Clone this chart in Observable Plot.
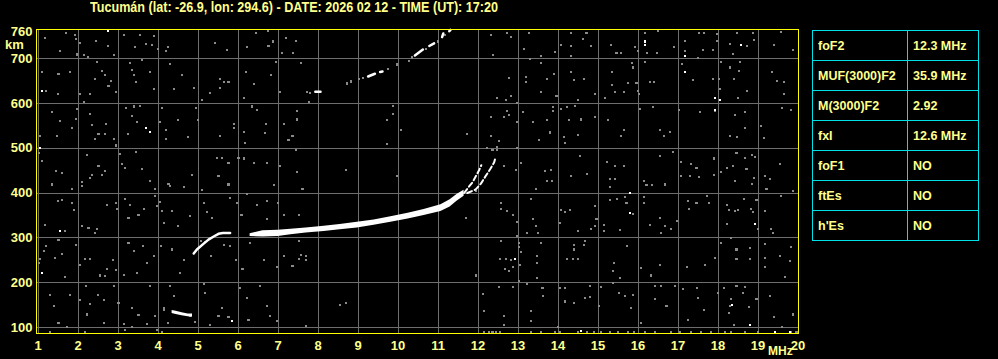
<!DOCTYPE html>
<html><head><meta charset="utf-8">
<script src="https://cdn.jsdelivr.net/npm/d3@7"></script>
<script src="https://cdn.jsdelivr.net/npm/@observablehq/plot@0.6"></script>
<style>
html,body{margin:0;padding:0;background:#000;width:998px;height:359px;overflow:hidden}
#wrap{position:relative;width:998px;height:359px;background:#000}
#chart{position:absolute;left:0;top:0}
.lbl{position:absolute;color:#ffff8c;font-family:"Liberation Sans",Arial,sans-serif;font-weight:bold;white-space:nowrap;line-height:1}
#title{left:90px;top:0px;font-size:14px;transform-origin:0 0}
#km{left:5px;top:38px;font-size:13px}
#mhz{left:768px;top:345px;font-size:12px}
#tbl{position:absolute;left:812px;top:30px;border-collapse:collapse;border:1px solid #00e0e8;table-layout:fixed;
  color:#ffff8c;font-family:"Liberation Sans",Arial,sans-serif;font-weight:bold;font-size:12.5px}
#tbl td{border:1px solid #00e0e8;height:30px;padding:0 0 0 5px;box-sizing:border-box;vertical-align:middle;white-space:nowrap;overflow:hidden}
#tbl td.p{width:95px}
#tbl td.v{width:71px}
</style></head>
<body><div id="wrap"><div id="chart"></div><div id="title" class="lbl"></div><div id="km" class="lbl">km</div><div id="mhz" class="lbl">MHz</div><table id="tbl"></table></div>
<script>
// ---------- texts ----------
const titleText = "Tucumán (lat: -26.9, lon: 294.6) - DATE: 2026 02 12 - TIME (UT): 17:20";
const xTicks = [1,2,3,4,5,6,7,8,9,10,11,12,13,14,15,16,17,18,19,20];
const yTicks = [100,200,300,400,500,600,700];
const yTopTick = 760;
const paramNames = ["foF2","MUF(3000)F2","M(3000)F2","fxI","foF1","ftEs","h'Es"];
const paramValues = ["12.3 MHz","35.9 MHz","2.92","12.6 MHz","NO","NO","NO"];

// ---------- traces (frequency MHz, virtual height km) ----------
// F2 ordinary trace, lower thin part
const oLowF = [4.89, 4.97, 5.14, 5.26, 5.39, 5.51, 5.62, 5.80];
const oLowH = [265, 274, 287, 296, 303, 309, 311, 311];
// F2 ordinary trace, thick band
const bandF  = [6.30, 6.62, 7.00, 7.32, 7.70, 8.15, 8.55, 8.98, 9.40, 9.82, 10.25, 10.65, 11.07, 11.30, 11.48, 11.65];
const bandLo = [303, 302, 303, 307, 311, 314, 318, 322, 328, 335, 342, 350, 359, 369, 382, 393];
const bandHi = [309, 316, 317, 319, 322, 326, 330, 335, 340, 347, 355, 363, 374, 385, 397, 406];
// F2 ordinary trace near critical frequency
const oTopF = [11.65, 11.76, 11.86, 11.96, 12.03, 12.08];
const oTopH = [400, 413, 424, 440, 452, 462];
// F2 extraordinary trace
const xTrF = [11.73, 11.94, 12.07, 12.19, 12.30, 12.40, 12.44];
const xTrH = [400, 408, 421, 438, 453, 468, 481];
// E-region echo
const eF  = [4.35, 4.45, 4.60, 4.75, 4.86];
const eLo = [131, 129, 126, 124, 123];
const eHi = [138, 136, 133, 130, 130];
// second-hop F echo: bright pieces [piece, freq, height]
const echo2F = [[0,7.93,626],[0,8.06,626],[1,9.25,660],[1,9.42,666],[2,9.55,670],[2,9.61,671],
  [3,10.42,707],[3,10.62,720],[4,10.78,728],[4,10.90,734],[5,11.10,748],[5,11.13,756],[6,11.28,761],[6,11.31,764]];
const echo2Dim = [[7.73,626],[7.80,623],[8.73,644],[8.83,649],[9.03,654],[9.12,657],[9.75,677],[9.98,687],[10.28,695],[10.35,702],[10.70,722],[11.00,738],[11.18,752],[11.94,405],[12.47,502]];

// ---------- noise (frequency MHz, height km) ----------
const noiseBright = [[2.75,762],[1.10,628],[3.70,544],[3.79,536],[1.04,501],[1.54,315],[1.10,222],[5.85,114],
  [12.92,252],[16.18,738],[16.18,731],[18.58,730],[17.18,705],[17.18,670],[17.93,611],[18.04,608],[17.93,585],
  [15.79,401],[15.79,356],[18.93,330],[18.35,151],[18.79,106],[19.42,91],[14.58,93],[19.79,91]];
const noiseGrey = [
 [1.70,757],[1.93,753],[1.95,743],[2.04,734],[2.45,739],[2.74,728],[1.18,745],[1.55,717],[1.97,709],[2.14,707],[2.24,703],[2.89,707],
 [3.15,753],[3.54,753],[3.89,751],[3.69,732],[3.85,730],[3.99,721],[3.43,725],[4.24,726],[4.20,716],[5.43,734],[6.45,757],[6.74,762],
 [6.87,738],[6.22,725],[6.76,727],[7.10,712],[7.20,746],[5.72,719],
 [1.10,670],[1.51,666],[1.80,670],[1.49,620],[2.04,620],[2.14,603],[2.30,620],[2.47,693],[2.60,672],[2.43,655],[2.68,664],[2.82,649],
 [2.76,639],[2.95,626],[3.35,675],[3.29,690],[3.60,696],[3.39,663],[3.45,648],[3.89,631],[3.80,670],[4.30,687],[4.39,633],[4.60,664],
 [4.89,635],[5.10,607],[5.29,623],[5.55,654],[5.64,648],[5.76,648],[5.54,634],[6.14,613],[6.20,670],[6.39,643],[6.82,664],[6.95,693],[7.04,626],[1.20,628],
 [1.35,581],[1.54,561],[1.85,544],[1.97,587],[1.95,566],[2.29,576],[2.35,551],[2.51,531],[2.43,520],[2.70,553],[2.89,520],[2.95,506],
 [2.68,531],[3.20,589],[3.40,593],[3.55,594],[3.35,572],[3.47,558],[3.24,531],[4.05,558],[4.10,589],[4.20,541],[4.20,520],[4.49,563],
 [4.74,526],[4.95,589],[5.00,562],[5.54,527],[5.89,553],[5.90,544],[6.14,536],[6.18,511],[6.35,593],[6.47,585],[6.70,553],[6.68,533],
 [7.14,553],[7.26,518],[1.04,527],[1.47,527],[1.02,490],
 [1.45,449],[1.35,419],[1.60,444],[1.85,408],[2.10,424],[2.10,415],[2.22,484],[2.29,433],[2.35,440],[2.51,460],[2.60,440],[2.68,449],
 [3.04,488],[3.10,464],[3.18,456],[3.45,491],[3.60,454],[3.80,427],[3.93,408],[4.26,421],[4.30,415],[4.64,414],[4.84,441],[5.10,407],
 [5.47,479],[5.51,438],[5.60,479],[5.76,466],[5.76,419],[6.01,479],[6.14,477],[6.39,466],[6.72,468],[6.90,418],[7.05,460],[1.10,471],
 [1.18,328],[1.49,382],[1.60,384],[1.85,378],[1.89,363],[2.10,327],[2.26,322],[2.47,320],[2.72,373],[2.95,377],[2.97,365],[3.18,386],
 [3.30,373],[3.26,345],[3.51,352],[3.64,365],[3.93,393],[3.97,372],[4.05,380],[4.10,360],[4.14,333],[4.35,360],[4.49,326],[4.80,348],
 [5.14,377],[5.22,357],[5.35,345],[5.79,389],[5.97,377],[6.07,352],[6.09,350],[6.22,397],[6.47,374],[6.72,382],[6.72,341],[6.99,378],[7.14,350],
 [2.43,311],[1.68,315],
 [1.05,252],[1.14,270],[1.20,281],[1.43,255],[1.51,295],[1.60,265],[1.95,283],[2.04,240],[2.18,253],[2.30,252],[2.54,216],[2.68,214],
 [2.72,231],[2.87,250],[2.95,228],[3.14,218],[3.26,289],[3.39,270],[3.47,222],[3.62,281],[3.72,244],[3.89,259],[4.07,281],[4.35,274],
 [4.55,222],[4.64,250],[5.07,293],[5.18,290],[5.32,259],[5.65,283],[5.80,281],[5.95,250],[6.11,231],[6.30,289],[6.64,250],[6.97,235],
 [7.14,259],[1.68,213],[1.02,243],
 [1.30,172],[1.39,147],[1.80,172],[2.05,162],[2.20,192],[2.30,152],[2.49,172],[2.64,162],[2.89,193],[3.01,155],[3.14,108],[3.35,144],
 [3.51,127],[3.72,108],[3.80,192],[3.93,126],[4.14,144],[4.14,138],[4.30,192],[4.24,110],[4.39,171],[4.80,126],[4.93,112],[5.14,196],[5.18,177],
 [5.30,106],[5.51,126],[5.60,144],[5.76,123],[6.05,188],[6.22,166],[6.26,117],[6.55,192],[6.72,147],[6.80,125],[6.97,114],[1.51,110],
 [1.72,102],[2.22,129],[1.29,91],[2.64,110],[2.18,91],[3.18,95],[3.97,95],[4.10,91],[3.35,102],
 [7.44,740],[7.38,713],[7.58,689],[12.32,753],[12.73,757],[12.83,749],[13.28,758],[12.38,708],[13.15,721],[13.58,705],[13.58,691],[13.30,699],
 [7.48,583],[7.48,564],[7.78,603],[9.88,594],[9.73,563],[9.88,576],[13.19,658],[13.19,648],[12.78,656],[12.48,611],[12.69,608],[12.83,617],
 [12.98,600],[13.58,626],
 [12.72,583],[12.78,573],[12.65,570],[12.32,570],[13.13,581],[12.98,558],[13.38,558],[10.08,541],[9.73,509],[11.73,531],[12.33,527],
 [12.53,516],[13.53,518],[7.36,527],
 [7.44,496],[7.48,447],[8.69,451],[9.98,438],[12.23,501],[12.36,497],[12.48,497],[12.98,501],[12.65,460],[12.94,451],[13.08,468],
 [13.67,449],[13.44,408],[7.61,408],
 [7.53,350],[12.58,377],[12.58,365],[12.73,360],[12.88,350],[11.69,345],[12.97,335],[12.98,305],[13.23,311],[13.33,386],[13.38,341],
 [13.44,327],[13.50,310],
 [7.53,292],[7.53,252],[7.58,261],[7.69,259],[7.69,250],[7.36,238],[12.58,292],[12.55,253],[12.69,252],[12.83,250],[13.03,289],[13.03,280],
 [13.05,240],[12.88,235],[12.78,225],[12.67,231],[13.08,268],[13.48,260],[13.48,244],[13.47,211],[13.58,289],[11.94,216],[13.03,203],[13.23,198],
 [8.54,151],[8.69,155],[12.13,175],[12.15,136],[12.53,190],[12.88,190],[12.65,125],[12.65,106],[13.33,136],[13.33,114],[13.61,188],
 [13.63,170],[7.69,103],[12.15,91],[12.28,91],[12.36,91],[12.44,91],[12.55,91],[13.32,91],[13.57,91],
 [14.33,758],[14.71,758],[14.63,743],[14.08,730],[14.33,727],[14.33,705],[14.83,727],[15.32,730],[15.46,712],[15.58,712],[15.92,725],
 [16.00,717],[16.17,757],[16.23,712],[16.50,762],[16.48,712],[16.90,725],[17.18,740],[17.18,717],[17.52,757],[17.65,757],[17.63,719],
 [17.88,719],[17.98,754],[17.98,740],[18.29,732],[18.48,757],[18.73,728],[18.88,758],[18.90,742],[19.88,719],[19.58,760],[19.40,730],
 [18.38,710],[17.50,702],[13.92,715],
 [13.90,665],[13.73,655],[14.33,669],[14.40,652],[14.65,655],[14.92,620],[14.50,608],[15.18,613],[15.35,670],[15.43,626],[15.65,626],
 [15.35,640],[15.85,691],[15.88,680],[15.75,645],[15.96,645],[16.00,628],[16.02,620],[16.18,693],[16.29,648],[16.40,648],[17.10,687],
 [17.38,652],[17.88,655],[18.02,655],[18.04,633],[18.08,693],[18.29,680],[18.40,654],[18.54,693],[18.52,672],[18.73,628],[19.35,670],
 [19.48,650],[19.65,648],[19.65,620],[18.50,613],[13.96,617],
 [13.73,563],[13.88,591],[13.88,583],[14.08,588],[14.23,591],[14.27,563],[14.43,594],[14.57,564],[14.50,529],[14.92,570],[14.14,524],
 [14.18,511],[13.79,535],[15.25,563],[15.58,527],[15.65,541],[16.04,588],[16.38,591],[16.54,541],[16.65,527],[16.79,536],[17.03,585],
 [17.54,581],[17.92,583],[18.43,575],[18.29,527],[18.48,526],[18.68,581],[18.68,544],[19.08,550],[19.15,523],[19.60,589],[19.82,585],
 [13.83,451],[13.73,427],[13.85,427],[14.33,438],[14.54,483],[14.73,442],[15.23,469],[15.43,460],[15.29,432],[15.43,432],[15.29,414],
 [15.65,460],[16.15,427],[16.21,417],[16.35,417],[16.54,483],[16.68,419],[16.88,491],[17.08,469],[17.33,464],[17.46,456],[17.08,438],
 [17.29,438],[17.52,436],[17.90,477],[17.90,441],[18.08,447],[18.23,456],[18.38,460],[18.46,490],[18.67,479],[18.71,454],[18.43,427],
 [18.85,484],[18.93,481],[18.90,434],[18.85,421],[19.17,438],[19.29,432],[19.21,409],[19.54,464],[19.88,404],
 [14.04,333],[14.08,363],[14.17,357],[14.29,363],[14.50,315],[14.83,320],[14.92,326],[14.96,341],[14.92,372],[15.15,315],[15.15,328],
 [15.29,384],[15.48,386],[15.67,392],[15.71,377],[15.54,317],[15.88,354],[16.15,392],[16.15,377],[16.29,328],[16.54,345],[16.58,311],
 [16.68,326],[16.82,319],[16.98,337],[17.25,382],[17.46,377],[17.73,393],[17.77,377],[17.27,365],[18.23,374],[18.27,363],[18.23,330],
 [18.43,360],[18.50,363],[18.65,386],[18.83,365],[18.88,357],[18.96,384],[19.00,319],[19.17,360],[19.33,319],[19.38,310],[19.58,393],[18.33,300],
 [14.40,283],[14.40,274],[14.23,252],[14.38,252],[14.50,252],[14.67,293],[14.65,283],[15.40,244],[15.38,225],[15.54,211],[15.73,281],
 [16.08,233],[16.33,216],[16.54,240],[17.23,235],[17.68,240],[17.93,255],[18.08,289],[18.46,274],[18.46,252],[18.79,278],[18.79,253],
 [19.17,287],[19.17,255],[19.17,235],[19.54,259],[19.68,213],[19.83,280],[19.79,248],
 [14.04,188],[14.18,188],[14.18,158],[14.40,155],[14.67,166],[14.79,168],[14.79,192],[15.02,147],[15.08,190],[15.38,199],[15.52,178],
 [15.67,170],[15.88,173],[15.83,144],[16.08,110],[16.43,192],[16.57,192],[16.42,164],[16.71,147],[16.93,192],[17.13,185],[17.48,188],
 [17.50,166],[17.25,117],[17.65,140],[18.00,177],[18.15,188],[18.33,164],[18.29,147],[18.27,132],[18.40,106],[18.46,192],[18.67,190],
 [18.63,178],[18.77,146],[18.96,164],[19.29,170],[19.40,123],[19.60,102],[19.88,129],[14.00,102],
 [13.92,91],[14.04,91],[14.50,91],[14.73,91],[14.90,91],[15.08,91],[15.29,91],[15.50,91],[15.75,91],[15.90,91],[16.17,91],[16.42,91],
 [16.83,91],[17.04,91],[17.33,91],[17.58,91],[17.83,91],[18.17,91],[18.33,91],[18.67,91],[19.00,91],[19.83,91],[19.96,91]
];

// ---------- build ----------
const FONT = '"Liberation Sans",Arial,sans-serif';
const band = bandF.map((f,i)=>({f, lo:bandLo[i], hi:bandHi[i]}));
const eBand = eF.map((f,i)=>({f, lo:eLo[i], hi:eHi[i]}));
const oLow = oLowF.map((f,i)=>({f, h:oLowH[i]}));
const oTop = oTopF.map((f,i)=>({f, h:oTopH[i]}));
const xTr = xTrF.map((f,i)=>({f, h:xTrH[i]}));

const chart = Plot.plot({
  width: 998, height: 359,
  marginLeft: 36, marginRight: 200, marginTop: 29, marginBottom: 26,
  style: {background:"#000", color:"#ffff8c", fontFamily: FONT, fontSize:"13px", fontWeight:"bold"},
  x: {domain:[0.96, 20.01]},
  y: {domain:[86.6, 764.8]},
  marks: [
    Plot.gridX(xTicks, {stroke:"#6e6e6e", strokeOpacity:1, shapeRendering:"crispEdges"}),
    Plot.gridY(yTicks, {stroke:"#6e6e6e", strokeOpacity:1, shapeRendering:"crispEdges"}),
    Plot.dot(noiseGrey, {x:d=>d[0], y:d=>d[1], symbol:"square", r:1.15, fill:"#8a8a8a", shapeRendering:"crispEdges"}),
    Plot.dot(echo2Dim, {x:d=>d[0], y:d=>d[1], symbol:"square", r:1.3, fill:"#8a8a8a", shapeRendering:"crispEdges"}),
    Plot.dot(noiseBright, {x:d=>d[0], y:d=>d[1], symbol:"square", r:1.15, fill:"#fff", shapeRendering:"crispEdges"}),
    Plot.areaY(band, {x:"f", y1:"lo", y2:"hi", fill:"#fff"}),
    Plot.areaY(eBand, {x:"f", y1:"lo", y2:"hi", fill:"#fff"}),
    Plot.line(oLow, {x:"f", y:"h", stroke:"#fff", strokeWidth:2.5}),
    Plot.line(oTop, {x:"f", y:"h", stroke:"#fff", strokeWidth:2, strokeDasharray:"5,3"}),
    Plot.line(xTr, {x:"f", y:"h", stroke:"#fff", strokeWidth:2, strokeDasharray:"5,3"}),
    Plot.line(echo2F, {x:d=>d[1], y:d=>d[2], z:d=>d[0], stroke:"#fff", strokeWidth:2.5}),
    Plot.frame({stroke:"#ffff00", shapeRendering:"crispEdges"}),
    Plot.axisX(xTicks, {tickSize:0, tickPadding:7, tickFormat:d=>String(d), label:null}),
    Plot.axisY([...yTicks, yTopTick], {tickSize:0, tickPadding:4, tickFormat:d=>String(d), label:null})
  ]
});
document.getElementById("chart").appendChild(chart);
const t = document.getElementById("title");
t.textContent = titleText;
const tw = t.getBoundingClientRect().width;
t.style.transform = `scaleX(${408 / tw})`;
const tbl = document.getElementById("tbl");
paramNames.forEach((p,i)=>{
  const tr = document.createElement("tr");
  const a = document.createElement("td"); a.className="p"; a.textContent=p;
  const b = document.createElement("td"); b.className="v"; b.textContent=paramValues[i];
  tr.appendChild(a); tr.appendChild(b); tbl.appendChild(tr);
});
</script>
</body></html>
